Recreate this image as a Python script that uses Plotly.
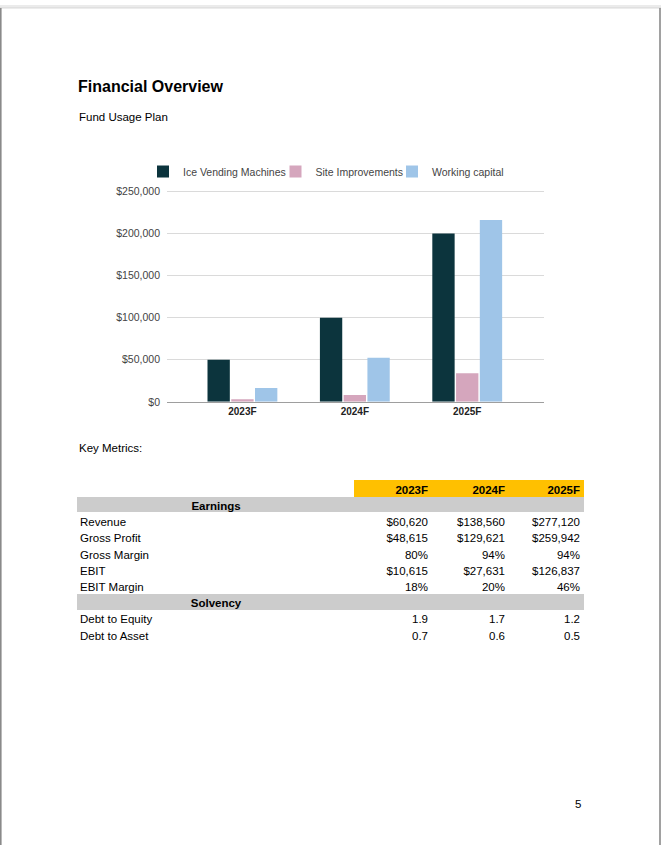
import plotly.graph_objects as go

W, H = 661, 851

# ---------------- data ----------------
years = ["2023F", "2024F", "2025F"]
series_names = ["Ice Vending Machines", "Site Improvements", "Working capital"]
ice_vending = [50000, 100000, 200000]
site_improvements = [3000, 8000, 34000]
working_capital = [16500, 52500, 216000]
series_colors = ["#0c343d", "#d5a6bd", "#9fc5e8"]

revenue = [60620, 138560, 277120]
gross_profit = [48615, 129621, 259942]
gross_margin = [80, 94, 94]
ebit = [10615, 27631, 126837]
ebit_margin = [18, 20, 46]
debt_to_equity = [1.9, 1.7, 1.2]
debt_to_asset = [0.7, 0.6, 0.5]

FONT = "Arial, 'Liberation Sans', sans-serif"

# page-pixel -> paper helpers (small vertical calibration for the photographed page)
SC, OY = 0.99, 4.0


def px_x(v):
    return v / W


def px_y(v):
    return 1 - ((v - OY) / SC) / H


fig = go.Figure()

legend_ids = ["legend", "legend2", "legend3"]
legend_x = [143, 275.5, 392]
for name, vals, col, lid in zip(series_names, [ice_vending, site_improvements, working_capital],
                                series_colors, legend_ids):
    fig.add_trace(go.Bar(x=years, y=vals, name=name, marker_color=col, legend=lid,
                         marker_line_width=0, hoverinfo="x+y+name"))

# ---------------- table ----------------
def money(v):
    return "${:,}".format(v)


def pct(v):
    return "{}%".format(v)


# (section, label) rows
rows = [("Earnings", None), (None, "Revenue"), (None, "Gross Profit"), (None, "Gross Margin"),
        (None, "EBIT"), (None, "EBIT Margin"), ("Solvency", None),
        (None, "Debt to Equity"), (None, "Debt to Asset")]

label_col = [lab or "" for sec, lab in rows]
section_col = [sec or "" for sec, lab in rows]
spacer_col = [""] * len(rows)
year_cols = []
for k in range(3):
    year_cols.append(["", money(revenue[k]), money(gross_profit[k]), pct(gross_margin[k]),
                      money(ebit[k]), pct(ebit_margin[k]), "",
                      "{:.1f}".format(debt_to_equity[k]), "{:.1f}".format(debt_to_asset[k])])

GRAY = "#cccccc"
YEL = "#ffc000"
CLEAR = "rgba(0,0,0,0)"
row_fill = [GRAY if sec else "white" for sec, lab in rows]
ROW_H = 16.05 / SC
HEAD_H = 16.0 / SC

# cell backgrounds (label block + year block)
fig.add_trace(go.Table(
    domain=dict(x=[px_x(77), px_x(584)], y=[px_y(650), px_y(481)]),
    columnwidth=[278, 229],
    header=dict(values=["", ""],
                fill_color=["white", YEL],
                line=dict(width=1, color=["white", YEL]), height=HEAD_H),
    cells=dict(values=[[""] * len(rows)] * 2,
               fill_color=[row_fill] * 2,
               line=dict(width=1, color=[row_fill] * 2), height=ROW_H),
    hoverinfo="skip",
))

# cell texts
fig.add_trace(go.Table(
    domain=dict(x=[px_x(72), px_x(588)], y=[px_y(650), px_y(477.5)]),
    columnwidth=[100, 88, 95, 81, 77, 75],
    header=dict(values=["", "", ""] + years,
                fill_color=CLEAR,
                align=["left", "center", "left", "right", "right", "right"],
                line=dict(width=0, color=CLEAR),
                font=dict(family=FONT, size=11.5, color="black", weight="bold"),
                height=HEAD_H),
    cells=dict(values=[label_col, section_col, spacer_col] + year_cols,
               fill_color=CLEAR,
               align=["left", "center", "left", "right", "right", "right"],
               line=dict(width=0, color=CLEAR),
               font=dict(family=FONT, size=11.5, color="black",
                         weight=["normal", "bold", "normal", "normal", "normal", "normal"]),
               height=ROW_H),
))

# ---------------- layout ----------------
annotations = [
    dict(text="<b>Financial Overview</b>", x=px_x(76), y=px_y(85.5), xanchor="left", yanchor="middle",
         font=dict(family=FONT, size=16, color="black")),
    dict(text="Fund Usage Plan", x=px_x(76.5), y=px_y(116.5), xanchor="left", yanchor="middle",
         font=dict(family=FONT, size=11.5, color="black")),
    dict(text="Key Metrics:", x=px_x(76.5), y=px_y(448), xanchor="left", yanchor="middle",
         font=dict(family=FONT, size=11.5, color="black")),
    dict(text="5", x=px_x(578), y=px_y(805.5), xanchor="center", yanchor="middle",
         font=dict(family=FONT, size=11.5, color="black")),
]
for a in annotations:
    a.update(xref="paper", yref="paper", showarrow=False)

shapes = [
    dict(type="rect", xref="paper", yref="paper", x0=0, x1=1, y0=1 - 3.0 / H, y1=1,
         fillcolor="#ebebeb", line_width=0),
    dict(type="line", xref="paper", yref="paper", x0=0, x1=1, y0=1 - 3.0 / H, y1=1 - 3.0 / H,
         line=dict(color="#d6d6d6", width=1)),
    dict(type="line", xref="paper", yref="paper", x0=0.8 / W, x1=0.8 / W, y0=0, y1=1 - 3.0 / H,
         line=dict(color="#8a8a8a", width=1.6)),
    dict(type="line", xref="paper", yref="paper", x0=660 / W, x1=660 / W, y0=0, y1=1 - 3.0 / H,
         line=dict(color="#8a8a8a", width=1.6)),
]

legend_common = dict(orientation="h", yanchor="middle", y=px_y(171), xanchor="left",
                     font=dict(family=FONT, size=10.5, color="#444444"),
                     bgcolor="rgba(0,0,0,0)", itemclick=False, itemdoubleclick=False)

Y_TOP = 252000
fig.update_layout(
    width=W, height=H, autosize=False,
    margin=dict(l=0, r=0, t=0, b=0),
    paper_bgcolor="white", plot_bgcolor="white",
    font=dict(family=FONT, color="#444444"),
    barmode="group", bargap=0.366, bargroupgap=0.06,
    showlegend=True,
    legend=dict(legend_common, x=px_x(legend_x[0])),
    legend2=dict(legend_common, x=px_x(legend_x[1])),
    legend3=dict(legend_common, x=px_x(legend_x[2])),
    xaxis=dict(domain=[px_x(167), px_x(544)], anchor="y", type="category",
               range=[-0.671, 2.683], showgrid=False, showline=True,
               linecolor="#9e9e9e", linewidth=1, ticks="",
               tickfont=dict(family=FONT, size=10, color="#222222", weight="bold"),
               fixedrange=True),
    yaxis=dict(domain=[px_y(402), px_y(402 - 211 * Y_TOP / 250000)], anchor="x", range=[0, Y_TOP],
               tick0=0, dtick=50000,
               tickprefix="$", tickformat=",", showgrid=True,
               gridcolor="#dadada", gridwidth=1, zeroline=False, showline=False,
               ticks="", ticklabelstandoff=6,
               tickfont=dict(family=FONT, size=10.5, color="#444444"),
               fixedrange=True),
    annotations=annotations,
    shapes=shapes,
)

fig.write_html("out.html", config={"displayModeBar": False},
               post_script="document.documentElement.style.overflow='hidden';"
                           "document.body.style.overflow='hidden';"
                           "document.body.style.margin='0px';"
                           "document.body.style.height='851px';")
